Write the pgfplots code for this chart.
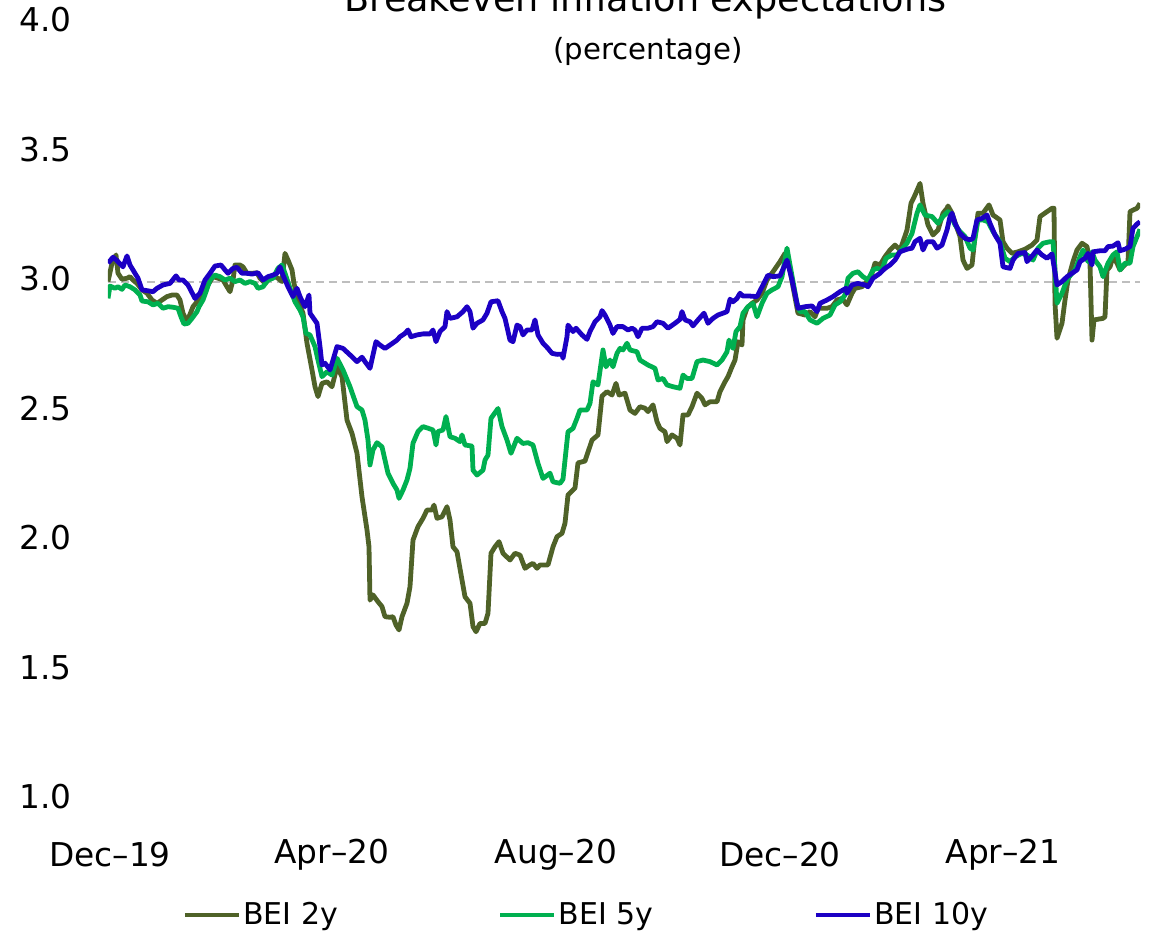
\documentclass[border=0pt]{standalone}
\usepackage{pgfplots}
\pgfplotsset{compat=1.18}
\usepackage{fontspec}
\setmainfont{DejaVu Sans}
\definecolor{bei2}{RGB}{79,98,40}
\definecolor{bei5}{RGB}{0,176,80}
\definecolor{bei10}{RGB}{28,0,196}
\definecolor{refgray}{RGB}{190,190,190}

\pgfplotstableread{
t v
0 2.990
4 3.061
8 3.093
10 3.022
14 2.999
19 3.003
22 3.009
25 2.996
29 2.983
34 2.958
39 2.945
44 2.919
49 2.906
54 2.919
59 2.932
64 2.938
69 2.938
72 2.919
75 2.868
78 2.844
81 2.854
85 2.893
89 2.912
95 2.938
100 2.977
105 3.009
110 3.003
115 2.996
119 2.970
122 2.951
125 2.996
127 3.054
132 3.054
135 3.047
139 3.022
144 3.022
149 3.024
152 3.003
157 2.983
162 3.003
167 3.009
170 3.003
174 2.990
177 3.099
180 3.073
184 3.035
186 2.983
190 2.919
195 2.868
199 2.752
204 2.649
207 2.584
210 2.546
214 2.597
219 2.603
224 2.584
229 2.661
234 2.623
239 2.455
244 2.404
249 2.327
254 2.159
259 2.031
261 1.966
262 1.760
265 1.780
270 1.754
274 1.735
277 1.696
282 1.694
285 1.696
288 1.664
291 1.645
294 1.696
299 1.748
302 1.812
305 1.992
310 2.044
315 2.076
319 2.108
324 2.108
326 2.127
329 2.076
334 2.082
339 2.121
342 2.069
345 1.966
349 1.947
354 1.838
357 1.773
362 1.748
365 1.658
368 1.638
372 1.670
377 1.670
380 1.709
383 1.941
387 1.966
391 1.986
395 1.941
402 1.915
407 1.941
412 1.934
417 1.883
422 1.896
425 1.902
429 1.883
432 1.896
440 1.896
445 1.966
449 2.005
454 2.018
457 2.057
460 2.166
467 2.193
470 2.290
477 2.297
484 2.378
490 2.398
494 2.548
499 2.565
504 2.552
508 2.597
511 2.552
517 2.559
522 2.494
527 2.481
532 2.507
537 2.501
540 2.488
545 2.514
549 2.449
552 2.423
557 2.410
559 2.372
564 2.398
569 2.385
572 2.359
575 2.475
580 2.475
584 2.507
589 2.559
594 2.539
597 2.514
602 2.526
609 2.526
612 2.565
617 2.603
620 2.623
624 2.661
627 2.687
630 2.758
634 2.745
635 2.842
639 2.888
644 2.906
649 2.919
654 2.945
659 2.996
665 3.028
672 3.067
677 3.099
680 3.080
685 2.970
690 2.868
697 2.861
702 2.874
707 2.854
710 2.887
719 2.887
724 2.893
729 2.919
734 2.925
739 2.900
744 2.945
747 2.964
754 2.970
759 2.990
764 3.022
767 3.061
772 3.054
777 3.086
782 3.112
787 3.131
792 3.112
795 3.144
799 3.189
803 3.292
807 3.324
812 3.369
815 3.292
820 3.208
825 3.170
830 3.189
835 3.254
839 3.273
840 3.282
844 3.254
849 3.196
852 3.164
855 3.073
859 3.041
864 3.054
867 3.164
870 3.254
875 3.254
881 3.286
885 3.247
892 3.228
895 3.144
899 3.119
904 3.099
910 3.105
917 3.115
924 3.131
929 3.151
932 3.241
939 3.260
944 3.273
946 3.273
947 2.906
949 2.771
954 2.829
957 2.919
960 2.996
965 3.067
969 3.112
974 3.138
979 3.125
982 3.061
984 2.764
986 2.842
995 2.848
997 2.854
999 3.035
1002 3.047
1005 3.086
1009 3.061
1012 3.035
1015 3.047
1020 3.067
1022 3.260
1025 3.266
1029 3.273
1032 3.292
}\beitwo

\pgfplotstableread{
t v
0 2.925
2 2.973
7 2.964
10 2.970
14 2.960
17 2.977
22 2.970
27 2.958
32 2.938
34 2.915
40 2.912
45 2.900
50 2.906
55 2.887
60 2.893
65 2.891
70 2.887
73 2.854
76 2.826
80 2.829
84 2.848
89 2.874
91 2.893
95 2.919
98 2.951
102 2.996
107 3.015
112 3.009
117 2.996
122 3.003
127 2.990
132 2.996
137 2.983
142 2.990
147 2.983
150 2.964
155 2.970
160 2.996
165 3.003
170 3.041
174 3.054
177 3.022
182 2.964
187 2.912
192 2.880
195 2.854
198 2.790
202 2.784
207 2.739
210 2.687
214 2.623
219 2.642
224 2.629
229 2.694
235 2.649
242 2.584
249 2.507
254 2.494
257 2.455
260 2.378
262 2.282
265 2.340
269 2.368
274 2.352
277 2.301
280 2.250
285 2.211
289 2.185
291 2.153
295 2.185
299 2.224
302 2.269
305 2.366
310 2.411
315 2.430
320 2.424
325 2.417
328 2.359
330 2.411
335 2.417
338 2.469
342 2.391
347 2.385
352 2.372
354 2.398
357 2.359
364 2.355
365 2.262
369 2.243
375 2.262
377 2.301
380 2.320
383 2.462
390 2.500
394 2.430
399 2.378
403 2.327
409 2.385
415 2.365
420 2.368
425 2.359
430 2.288
435 2.230
442 2.250
445 2.217
452 2.211
455 2.227
460 2.410
465 2.423
469 2.462
472 2.494
479 2.494
482 2.520
485 2.603
490 2.591
495 2.726
498 2.661
502 2.687
505 2.661
509 2.713
512 2.732
515 2.726
519 2.752
522 2.726
529 2.719
532 2.687
540 2.668
547 2.655
550 2.610
555 2.616
559 2.591
565 2.584
572 2.578
575 2.629
579 2.616
584 2.616
589 2.681
595 2.687
602 2.681
609 2.668
614 2.687
619 2.719
621 2.764
625 2.732
628 2.797
632 2.816
635 2.868
640 2.893
645 2.906
649 2.854
654 2.906
659 2.945
664 2.958
670 2.970
674 3.009
679 3.119
682 3.054
689 2.906
692 2.874
697 2.874
702 2.842
709 2.829
715 2.848
722 2.861
727 2.900
732 2.912
737 2.938
740 3.003
745 3.022
750 3.028
755 3.009
760 2.996
765 3.035
769 3.041
774 3.035
778 3.080
784 3.093
789 3.093
794 3.115
799 3.138
804 3.176
809 3.254
812 3.286
817 3.247
824 3.241
830 3.215
835 3.241
840 3.260
842 3.254
847 3.209
852 3.183
857 3.164
862 3.119
865 3.112
870 3.228
875 3.228
880 3.221
885 3.183
892 3.144
897 3.080
902 3.067
907 3.086
914 3.099
919 3.093
925 3.073
930 3.119
935 3.138
942 3.144
945 3.144
947 3.035
949 2.906
954 2.945
957 2.977
960 3.003
967 3.035
972 3.086
975 3.112
980 3.067
984 3.105
987 3.073
992 3.047
995 3.009
1000 3.061
1005 3.093
1009 3.105
1012 3.035
1017 3.061
1022 3.061
1025 3.125
1032 3.192
}\beifive

\pgfplotstableread{
t v
0 3.061
5 3.084
9 3.071
15 3.047
19 3.089
22 3.054
27 3.022
30 3.003
34 2.958
39 2.955
45 2.951
49 2.964
55 2.977
62 2.983
68 3.012
71 2.996
75 2.996
80 2.977
87 2.925
92 2.945
97 2.996
102 3.022
107 3.050
113 3.054
117 3.035
120 3.022
125 3.041
129 3.045
134 3.022
139 3.022
144 3.019
150 3.024
155 2.996
160 3.009
165 3.015
169 3.022
172 3.047
175 3.015
180 2.970
185 2.932
189 2.964
192 2.932
197 2.893
201 2.938
202 2.868
209 2.829
212 2.739
214 2.668
217 2.675
222 2.649
225 2.687
229 2.739
235 2.732
242 2.707
249 2.681
254 2.698
257 2.681
262 2.655
265 2.707
268 2.758
272 2.745
277 2.732
282 2.745
289 2.764
292 2.777
297 2.790
300 2.803
303 2.777
309 2.784
315 2.788
322 2.788
325 2.803
328 2.758
332 2.797
337 2.816
339 2.874
342 2.848
349 2.854
355 2.874
359 2.893
362 2.874
365 2.810
369 2.829
375 2.842
379 2.868
383 2.912
390 2.916
394 2.874
397 2.848
402 2.764
405 2.758
409 2.822
412 2.816
415 2.784
419 2.803
424 2.803
427 2.842
430 2.784
435 2.752
440 2.732
444 2.713
449 2.709
454 2.710
455 2.694
459 2.777
460 2.822
465 2.797
468 2.810
474 2.784
479 2.767
482 2.797
487 2.835
492 2.854
494 2.878
497 2.861
502 2.822
505 2.790
509 2.816
515 2.816
520 2.803
524 2.810
527 2.803
530 2.777
534 2.810
540 2.810
545 2.816
549 2.835
555 2.829
560 2.810
567 2.829
572 2.844
574 2.874
577 2.842
582 2.835
585 2.819
590 2.842
596 2.868
600 2.829
605 2.848
610 2.861
615 2.868
619 2.874
622 2.922
625 2.912
629 2.925
632 2.945
635 2.934
642 2.934
649 2.932
655 2.977
660 3.015
665 3.009
672 3.012
679 3.073
684 2.996
690 2.887
697 2.893
704 2.896
709 2.874
712 2.906
719 2.919
725 2.932
732 2.951
738 2.964
739 2.945
744 2.977
750 2.983
757 2.977
760 2.970
765 3.003
772 3.022
777 3.041
782 3.054
787 3.073
792 3.105
799 3.115
804 3.119
807 3.144
812 3.157
815 3.112
819 3.144
825 3.144
829 3.119
834 3.131
839 3.189
842 3.241
844 3.254
847 3.215
852 3.176
857 3.157
862 3.151
865 3.157
869 3.228
874 3.234
879 3.247
882 3.215
887 3.170
892 3.138
895 3.047
902 3.041
905 3.073
910 3.099
917 3.102
919 3.067
925 3.093
929 3.112
934 3.093
939 3.080
944 3.097
949 2.977
954 2.990
959 3.009
964 3.022
969 3.035
972 3.067
977 3.080
980 3.099
984 3.054
985 3.105
992 3.109
997 3.109
1000 3.125
1005 3.127
1010 3.140
1012 3.109
1017 3.115
1022 3.125
1025 3.196
1029 3.212
1032 3.221
}\beiten

\begin{document}
\begin{tikzpicture}
\begin{axis}[
  name=ax,
  scale only axis,
  width=516pt, height=388.5pt,
  xmin=0, xmax=1032, ymin=1, ymax=4,
  axis line style={draw=none},
  tick style={draw=none},
  major tick length=0pt,
  xtick={2,224,448,672,895},
  xticklabels={Dec--19,Apr--20,Aug--20,Dec--20,Apr--21},
  ytick={1,1.5,2,2.5,3,3.5,4},
  yticklabel={\pgfmathprintnumber[fixed,fixed zerofill,precision=1]{\tick}},
  /pgf/number format/assume math mode=true,
  xticklabel style={font=\fontsize{16.4}{19}\selectfont, anchor=center, inner sep=0pt, yshift=-29pt},
  yticklabel style={font=\fontsize{16.4}{19}\selectfont, anchor=east, inner sep=0pt, xshift=-18pt},
  legend columns=3,
  legend cell align=left,
  legend style={draw=none, fill=none, at={(0,0)}, anchor=west, xshift=34pt, yshift=-59pt,
    font=\fontsize{15}{18}\selectfont,
    nodes={inner sep=1pt},
    /tikz/every even column/.append style={column sep=79pt}},
  legend image code/.code={\draw[#1, line width=2.4pt] (0pt,0pt) -- (27pt,0pt);},
  every axis plot/.append style={line width=2.4pt, line join=round},
]
\addplot[refgray, line width=1pt, dash pattern=on 4pt off 2.5pt, forget plot] coordinates {(0,2.988) (1032,2.988)};
\addplot[bei2] table[x=t,y=v] {\beitwo};
\addlegendentry{BEI 2y}
\addplot[bei5] table[x=t,y=v] {\beifive};
\addlegendentry{BEI 5y}
\addplot[bei10] table[x=t,y=v] {\beiten};
\addlegendentry{BEI 10y}
\end{axis}
\path (ax.south west) ++(268.75pt,392.5pt) node[anchor=base, inner sep=0pt, font=\fontsize{18.3}{22}\selectfont] {Breakeven inflation expectations};
\path (ax.south west) ++(270pt,368.5pt) node[anchor=base, inner sep=0pt, font=\fontsize{14.6}{18}\selectfont] {(percentage)};
\pgfresetboundingbox
\path[use as bounding box] (ax.south west) ++(-54pt,-69.5pt) rectangle ++(578.5pt,468pt);
\end{tikzpicture}
\end{document}
